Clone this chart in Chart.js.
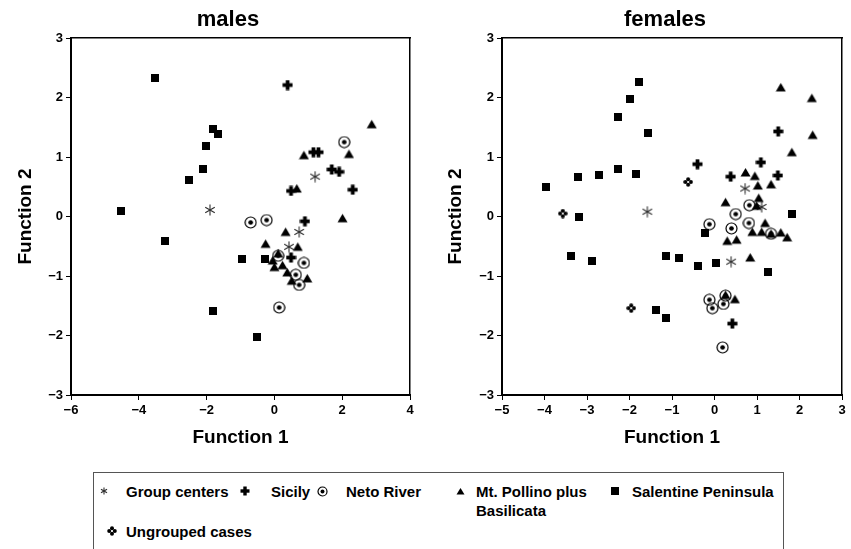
<!DOCTYPE html>
<html>
<head>
<meta charset="utf-8">
<script src="https://cdn.jsdelivr.net/npm/chart.js@4"></script>
<style>
  body { margin: 0; background: #fff; width: 851px; height: 549px; overflow: hidden; position: relative;
         font-family: "Liberation Sans", Arial, Helvetica, sans-serif; }
  #males { position: absolute; left: 0; top: 0; }
  #females { position: absolute; left: 430px; top: 0; }
  #legend { position: absolute; left: 93px; top: 472px; width: 691px; height: 90px;
            border: 1.5px solid #555; box-sizing: border-box; }
  .lbl { position: absolute; font-weight: bold; font-size: 15px; line-height: 19px; color: #000; white-space: nowrap; }
  .mk { position: absolute; }
</style>
</head>
<body>
<canvas id="males" width="456" height="460"></canvas>
<canvas id="females" width="470" height="460"></canvas>
<div id="legend"></div>
<script>
// discriminant scores, [function 1, function 2]
const malesCenters = [[1.20, 0.67], [-1.90, 0.11], [0.73, -0.26], [0.43, -0.51]];
const malesSicily = [[0.39, 2.21], [1.15, 1.08], [1.30, 1.08], [1.69, 0.79], [1.91, 0.75], [0.49, 0.43],
  [2.31, 0.45], [0.90, -0.08], [0.49, -0.69]];
const malesNeto = [[2.06, 1.25], [-0.70, -0.10], [-0.23, -0.06], [0.11, -0.66], [0.87, -0.78], [0.63, -0.98],
  [0.73, -1.15], [0.14, -1.53]];
const malesPollino = [[2.87, 1.55], [0.87, 1.03], [2.20, 1.05], [0.66, 0.47], [2.01, -0.03], [0.33, -0.26],
  [-0.26, -0.46], [0.69, -0.51], [0.11, -0.62], [-0.05, -0.74], [0.24, -0.82], [0.00, -0.85], [0.38, -0.94],
  [0.51, -1.08], [0.97, -1.04]];
const malesSalentine = [[-3.52, 2.33], [-1.80, 1.47], [-1.66, 1.39], [-2.02, 1.18], [-2.10, 0.80], [-2.52, 0.61],
  [-4.53, 0.09], [-3.22, -0.42], [-0.97, -0.71], [-1.81, -1.59], [-0.28, -0.71], [-0.52, -2.03]];

const femalesCenters = [[-1.58, 0.08], [0.72, 0.47], [1.11, 0.16], [0.39, -0.76]];
const femalesSicily = [[-0.40, 0.88], [0.38, 0.67], [1.09, 0.91], [1.49, 0.69], [1.50, 1.43], [0.42, -1.80]];
const femalesNeto = [[0.82, 0.19], [0.50, 0.04], [-0.12, -0.13], [0.40, -0.20], [0.81, -0.11], [1.33, -0.29],
  [-0.12, -1.40], [-0.05, -1.54], [0.21, -1.47], [0.26, -1.33], [0.19, -2.20]];
const femalesPollino = [[1.56, 2.17], [2.29, 1.99], [2.31, 1.37], [1.82, 1.08], [0.73, 0.74], [0.95, 0.68],
  [1.02, 0.52], [1.33, 0.54], [1.04, 0.31], [0.26, 0.24], [0.99, 0.18], [1.19, -0.11], [0.89, -0.26],
  [1.11, -0.26], [1.56, -0.27], [1.71, -0.35], [1.33, -0.29], [0.30, -0.41], [0.52, -0.39], [0.84, -0.69],
  [0.26, -1.32], [0.48, -1.39]];
const femalesSalentine = [[-3.96, 0.50], [-3.22, 0.67], [-2.71, 0.70], [-2.28, 1.67], [-2.28, 0.79], [-1.98, 1.97],
  [-1.85, 0.71], [-1.77, 2.26], [-1.57, 1.40], [-3.20, 0.00], [-3.38, -0.66], [-2.89, -0.75], [-1.38, -1.57],
  [1.82, 0.04], [-0.22, -0.28], [-1.15, -0.66], [-0.84, -0.69], [-0.40, -0.84], [0.04, -0.78], [1.25, -0.94],
  [-1.15, -1.71]];
const femalesUngrouped = [[-0.62, 0.58], [-3.57, 0.05], [-1.96, -1.54]];

const malesXTicks = [-6, 4, 2];
const femalesXTicks = [-5, 3, 1];
const yTicks = [-3, 3, 1];

const legendLabels = ['Group centers', 'Sicily', 'Neto River', 'Mt. Pollino plus\nBasilicata',
  'Salentine Peninsula', 'Ungrouped cases'];

const FONT = '"Liberation Sans", Arial, Helvetica, sans-serif';
Chart.defaults.font.family = FONT;
Chart.defaults.color = '#000';

// little canvases used as point styles (and again in the legend)
function marker(kind, s) {
  const c = document.createElement('canvas');
  c.width = s; c.height = s;
  const g = c.getContext('2d');
  const m = s / 2;
  g.fillStyle = '#000';
  g.strokeStyle = '#000';
  if (kind === 'asterisk') {
    g.strokeStyle = '#2e2e2e';
    g.lineWidth = 1.1;
    const r = m - 0.5;
    for (let i = 0; i < 3; i++) {
      const t = Math.PI / 2 + i * Math.PI / 3;
      g.beginPath();
      g.moveTo(m + r * Math.cos(t), m + r * Math.sin(t));
      g.lineTo(m - r * Math.cos(t), m - r * Math.sin(t));
      g.stroke();
    }
  } else if (kind === 'plus') {
    const w = s * 0.34;
    g.fillRect(m - w / 2, 0.5, w, s - 1);
    g.fillRect(0.5, m - w / 2, s - 1, w);
  } else if (kind === 'circle') {
    g.lineWidth = 1.2;
    g.beginPath(); g.arc(m, m, m - 1, 0, Math.PI * 2); g.stroke();
    g.beginPath(); g.arc(m, m, s * 0.18, 0, Math.PI * 2); g.fill();
  } else if (kind === 'triangle') {
    g.beginPath();
    g.moveTo(m, 1); g.lineTo(s - 0.5, s - 1.5); g.lineTo(0.5, s - 1.5);
    g.closePath(); g.fill();
  } else if (kind === 'square') {
    g.fillRect(0, 0, s, s);
  } else if (kind === 'diamond') {
    const r = s * 0.2, o = s * 0.28;
    [[0, -o], [0, o], [-o, 0], [o, 0]].forEach(([dx, dy]) => {
      g.beginPath(); g.arc(m + dx, m + dy, r, 0, Math.PI * 2); g.fill();
    });
  }
  return c;
}

const pts = arr => arr.map(p => ({ x: p[0], y: p[1] }));
const minus = v => (v < 0 ? '\u2212' + Math.abs(v) : String(v));

function ds(label, arr, kind, size) {
  return { label: label, data: pts(arr), pointStyle: marker(kind, size), pointRadius: 5, showLine: false };
}

function makeScales(xt, leftWidth, rightWidth) {
  const tickFont = { family: FONT, size: 13, weight: 'bold' };
  const titleFont = { family: FONT, size: 19, weight: 'bold' };
  const grid = { display: true, drawOnChartArea: false, drawTicks: true, tickLength: 5, color: '#000' };
  return {
    x: {
      type: 'linear', position: 'bottom', min: xt[0], max: xt[1],
      ticks: { stepSize: xt[2], font: tickFont, color: '#000', padding: 3, callback: minus },
      grid: grid, border: { display: true, color: '#000', width: 2 },
      title: { display: true, text: 'Function 1', font: titleFont, color: '#000', padding: { top: 0, bottom: 11 } },
      afterFit: s => { s.height = 65; }
    },
    y: {
      type: 'linear', position: 'left', min: yTicks[0], max: yTicks[1],
      ticks: { stepSize: yTicks[2], font: tickFont, color: '#000', padding: 3, callback: minus },
      grid: grid, border: { display: true, color: '#000', width: 2 },
      title: { display: true, text: 'Function 2', font: titleFont, color: '#000', padding: { top: 14, bottom: 0 } },
      afterFit: s => { s.width = leftWidth; }
    },
    x2: {
      type: 'linear', position: 'top', min: xt[0], max: xt[1],
      ticks: { display: false }, grid: { display: false },
      border: { display: true, color: '#000', width: 1.5 },
      afterFit: s => { s.height = 0; }
    },
    y2: {
      type: 'linear', position: 'right', min: yTicks[0], max: yTicks[1],
      ticks: { display: false }, grid: { display: false },
      border: { display: true, color: '#000', width: 1.5 },
      afterFit: s => { s.width = rightWidth; }
    }
  };
}

function makeChart(id, title, datasets, xt, leftWidth, rightWidth) {
  return new Chart(document.getElementById(id), {
    type: 'scatter',
    data: { datasets: datasets },
    options: {
      responsive: false,
      animation: false,
      devicePixelRatio: 1,
      layout: { padding: 0 },
      plugins: {
        legend: { display: false },
        tooltip: { enabled: false },
        title: {
          display: true, text: title, color: '#000',
          font: { family: FONT, size: 22, weight: 'bold' },
          padding: { top: 7, bottom: 4.6 }
        }
      },
      scales: makeScales(xt, leftWidth, rightWidth)
    }
  });
}

makeChart('males', 'males', [
  ds('Salentine Peninsula', malesSalentine, 'square', 8),
  ds('Mt. Pollino plus Basilicata', malesPollino, 'triangle', 11),
  ds('Neto River', malesNeto, 'circle', 13),
  ds('Sicily', malesSicily, 'plus', 11),
  ds('Group centers', malesCenters, 'asterisk', 12)
], malesXTicks, 71, 46);

makeChart('females', 'females', [
  ds('Salentine Peninsula', femalesSalentine, 'square', 8),
  ds('Mt. Pollino plus Basilicata', femalesPollino, 'triangle', 11),
  ds('Neto River', femalesNeto, 'circle', 13),
  ds('Sicily', femalesSicily, 'plus', 11),
  ds('Ungrouped cases', femalesUngrouped, 'diamond', 10),
  ds('Group centers', femalesCenters, 'asterisk', 12)
], femalesXTicks, 72, 58);

// legend box under both plots
const legend = document.getElementById('legend');
const legendItems = [
  { kind: 'asterisk', size: 8, mx: 10, tx: 32, cy: 18 },
  { kind: 'plus', size: 10, mx: 151, tx: 177, cy: 18 },
  { kind: 'circle', size: 11, mx: 228, tx: 252, cy: 18 },
  { kind: 'triangle', size: 9, mx: 366, tx: 382, cy: 18 },
  { kind: 'square', size: 8, mx: 521, tx: 538, cy: 18 },
  { kind: 'diamond', size: 10, mx: 18, tx: 32, cy: 58 }
];
legendItems.forEach((it, i) => {
  const c = marker(it.kind, it.size);
  c.className = 'mk';
  c.style.left = (it.mx - it.size / 2) + 'px';
  c.style.top = (it.cy - it.size / 2) + 'px';
  legend.appendChild(c);
  const t = document.createElement('div');
  t.className = 'lbl';
  t.style.left = it.tx + 'px';
  t.style.top = (it.cy - 9.5) + 'px';
  legendLabels[i].split('\n').forEach((line, k) => {
    if (k) t.appendChild(document.createElement('br'));
    t.appendChild(document.createTextNode(line));
  });
  legend.appendChild(t);
});
</script>
</body>
</html>
